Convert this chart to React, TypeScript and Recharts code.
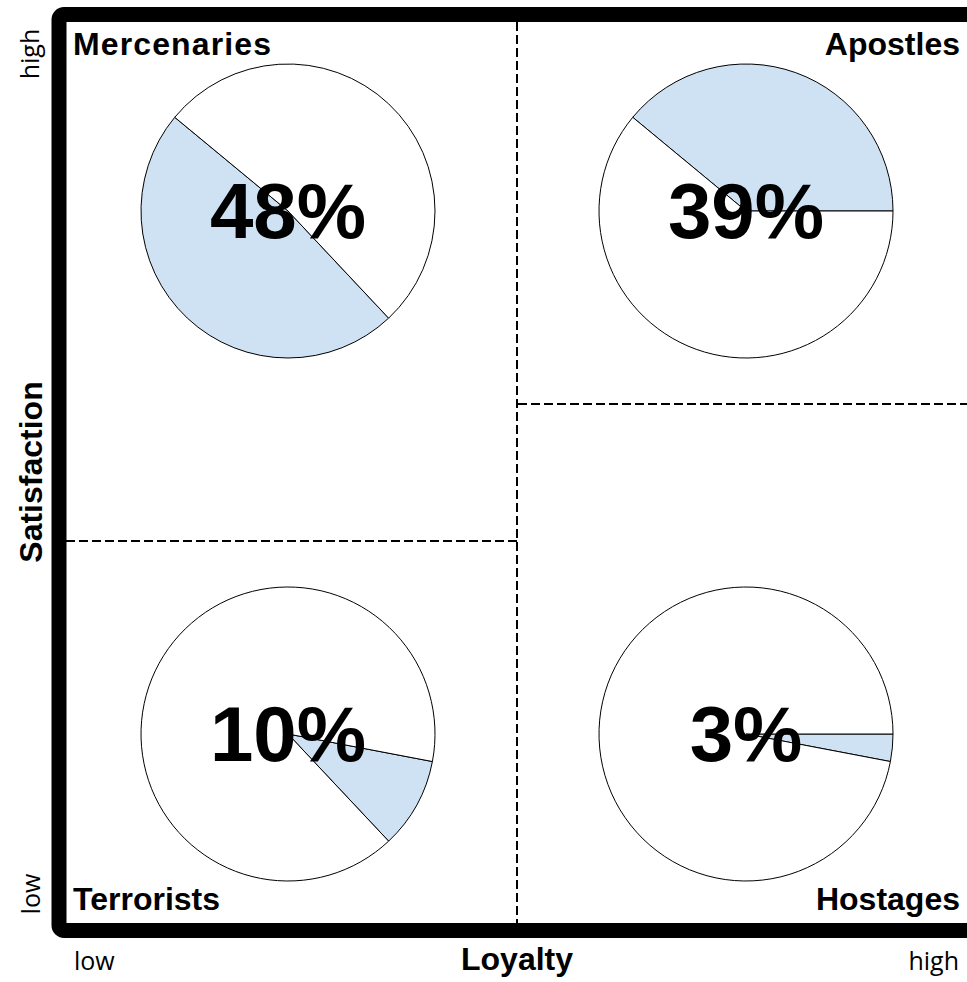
import React from 'react'
import { PieChart, Pie, Cell } from 'recharts'

// quadrant segments, in clockwise order starting at 3 o'clock
const segments = ['Hostages', 'Terrorists', 'Mercenaries', 'Apostles']
const shares = [3, 10, 48, 39]
const percentLabels = ['3%', '10%', '48%', '39%']

const axisX = 'Loyalty'
const axisY = 'Satisfaction'
const lowLabel = 'low'
const highLabel = 'high'

const BLUE = '#cfe2f3'
const BOLD = '"Liberation Sans", Arial, sans-serif'
const REG = '"Open Sans", sans-serif'

const W = 967
const H = 982
const R = 147

// pie centre for each segment
const centers: Record<string, [number, number]> = {
  Hostages: [746, 734],
  Terrorists: [288, 734],
  Mercenaries: [288, 211],
  Apostles: [746, 211],
}

function offsetOf(i: number) {
  let s = 0
  for (let k = 0; k < i; k++) s += shares[k]
  return s
}

function Backdrop() {
  return (
    <svg width={W} height={H} style={{ position: 'absolute', left: 0, top: 0 }}>
      <rect x={59} y={14.5} width={1000} height={916} rx={5} ry={5} fill="#fff" stroke="#000" strokeWidth={15} />
      <line x1={517} y1={22} x2={517} y2={923} stroke="#000" strokeWidth={2} strokeDasharray="9 4" />
      <line x1={66} y1={541} x2={517} y2={541} stroke="#000" strokeWidth={2} strokeDasharray="9 4" />
      <line x1={518} y1={404} x2={967} y2={404} stroke="#000" strokeWidth={2} strokeDasharray="9 4" />

      <g fontFamily={BOLD} fontWeight="bold" fontSize={32} fill="#000">
        <text x={73} y={55} textLength={198} lengthAdjust="spacing">Mercenaries</text>
        <text x={960} y={55} textAnchor="end">Apostles</text>
        <text x={73} y={910}>Terrorists</text>
        <text x={960} y={910} textAnchor="end">Hostages</text>
        <text x={517} y={970} textAnchor="middle">{axisX}</text>
        <text x={42} y={472} textAnchor="middle" transform="rotate(-90 42 472)">{axisY}</text>
      </g>

      <g fontFamily={REG} fontSize={25} fill="#000">
        <text x={74} y={970}>{lowLabel}</text>
        <text x={959} y={970} textAnchor="end">{highLabel}</text>
        <text x={39} y={54} textAnchor="middle" transform="rotate(-90 39 54)">{highLabel}</text>
        <text x={40} y={894} textAnchor="middle" transform="rotate(-90 40 894)">{lowLabel}</text>
      </g>
    </svg>
  )
}

export default function App() {
  return (
    <div style={{ position: 'absolute', left: 0, top: 0, width: W, height: H, background: '#fff' }}>
      <Backdrop />
      <div style={{ position: 'absolute', left: 0, top: 0 }}>
        <PieChart width={W} height={H} margin={{ top: 0, right: 0, bottom: 0, left: 0 }}>
          {segments.map((name, i) => {
            const start = -offsetOf(i) * 3.6
            const data = [
              { name, value: shares[i] },
              { name: 'rest', value: 100 - shares[i] },
            ]
            const [cx, cy] = centers[name]
            return (
              <Pie
                key={name}
                data={data}
                dataKey="value"
                cx={cx}
                cy={cy}
                outerRadius={R}
                innerRadius={0}
                startAngle={start}
                endAngle={start - 360}
                stroke="#000"
                strokeWidth={1}
                isAnimationActive={false}
                labelLine={false}
                label={(p: any) =>
                  p.index === 0 ? (
                    <text
                      x={p.cx}
                      y={p.cy + 27}
                      textAnchor="middle"
                      fontFamily={BOLD}
                      fontWeight="bold"
                      fontSize={78}
                      fill="#000"
                    >
                      {percentLabels[i]}
                    </text>
                  ) : null
                }
              >
                <Cell fill={BLUE} />
                <Cell fill="#fff" />
              </Pie>
            )
          })}
        </PieChart>
      </div>
    </div>
  )
}
